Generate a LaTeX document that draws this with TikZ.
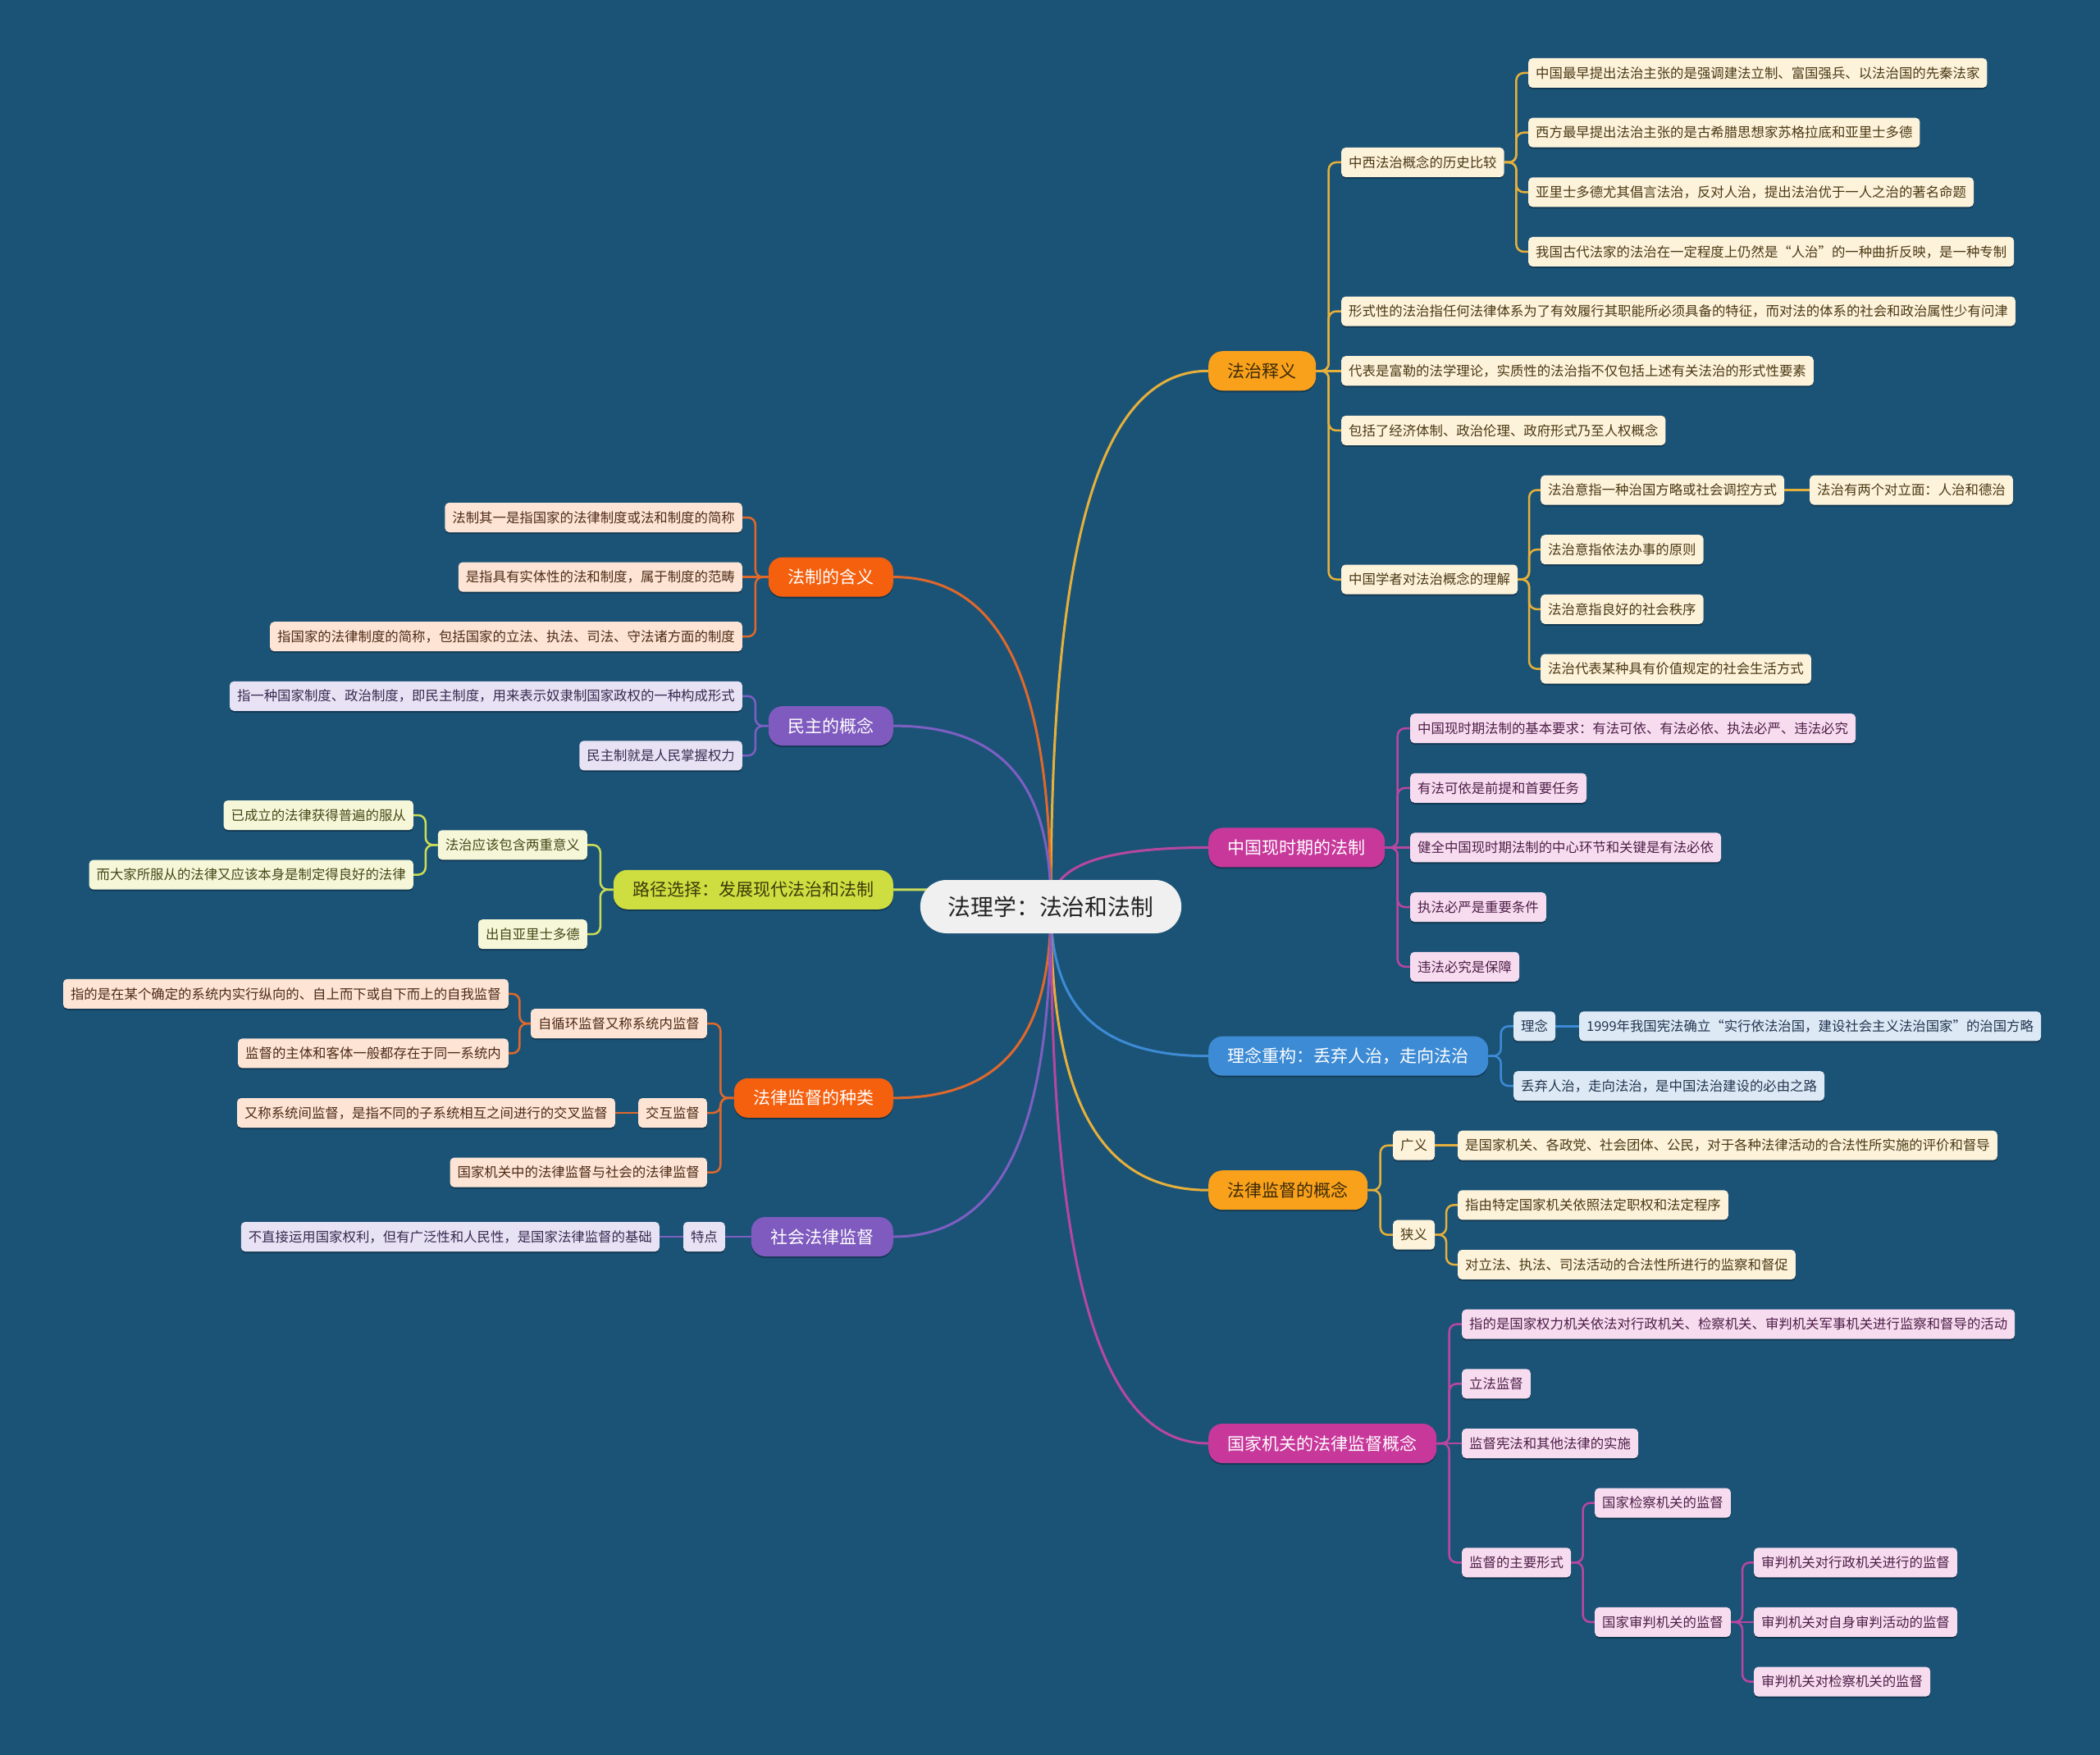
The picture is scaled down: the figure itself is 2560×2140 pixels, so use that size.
\documentclass[tikz,border=0pt]{standalone}
\usepackage{fontspec}
\newfontfamily\cjk{Noto Sans CJK SC}
\usetikzlibrary{calc,shadows}
\definecolor{bgc}{HTML}{1B5377}
\definecolor{orF}{HTML}{F9A11B}\definecolor{orT}{HTML}{3B2A0A}\definecolor{orL}{HTML}{E6B03A}\definecolor{orLf}{HTML}{FDF2DA}\definecolor{orLt}{HTML}{4A3914}
\definecolor{mgF}{HTML}{C8389B}\definecolor{mgL}{HTML}{B8479F}\definecolor{mgLf}{HTML}{F7DCF0}\definecolor{mgLt}{HTML}{4E1F47}
\definecolor{blF}{HTML}{3D8BD5}\definecolor{blL}{HTML}{3D8BD5}\definecolor{blLf}{HTML}{DDEAF6}\definecolor{blLt}{HTML}{22344F}
\definecolor{rdF}{HTML}{F4600E}\definecolor{rdL}{HTML}{E0682A}\definecolor{rdLf}{HTML}{FDE4D4}\definecolor{rdLt}{HTML}{4E2B17}
\definecolor{puF}{HTML}{7F5ABF}\definecolor{puL}{HTML}{7D5FC2}\definecolor{puLf}{HTML}{E8E3F4}\definecolor{puLt}{HTML}{362950}
\definecolor{ygF}{HTML}{CEDD3F}\definecolor{ygT}{HTML}{3A3C0A}\definecolor{ygL}{HTML}{CCDD55}\definecolor{ygLf}{HTML}{F6F7D9}\definecolor{ygLt}{HTML}{454716}
\definecolor{ctF}{HTML}{F0F0F0}\definecolor{ctT}{HTML}{222222}
\pgfdeclarelayer{back}\pgfdeclarelayer{edges}
\pgfsetlayers{back,edges,main}
\newcommand\cR[3]{\draw[subln,#1] (#2.east) -- ($(#2.east)!0.5!(#2.east -| #3.west)$) |- (#3.west);}
\newcommand\cL[3]{\draw[subln,#1] (#2.west) -- ($(#2.west)!0.5!(#2.west -| #3.east)$) |- (#3.east);}
\newcommand\sR[3]{\draw[subln,#1] (#2.east) -- (#2.east -| #3.west);}
\newcommand\sL[3]{\draw[subln,#1] (#2.west) -- (#2.west -| #3.east);}
\newcommand\mR[2]{\draw[mainln,#1] (c.center) .. controls ($(c.center)!0.62!(c.center |- #2.west)$) and ($(c.center |- #2.west)!0.25!(#2.west)$) .. (#2.west);}
\newcommand\mL[2]{\draw[mainln,#1] (c.center) .. controls ($(c.center)!0.62!(c.center |- #2.east)$) and ($(c.center |- #2.east)!0.25!(#2.east)$) .. (#2.east);}
\tikzset{
  mainln/.style={line width=3pt},
  subln/.style={line width=2.5pt, rounded corners=9pt},
  l0/.style={fill=ctF, text=ctT, rounded corners=32pt, minimum height=65pt, inner xsep=34pt, inner ysep=0pt, font=\cjk\fontsize{27.8}{30}\selectfont},
  l1/.style={rounded corners=17pt, minimum height=48pt, inner xsep=23.5pt, inner ysep=0pt, font=\cjk\fontsize{21}{24}\selectfont, drop shadow={shadow xshift=0pt, shadow yshift=-2pt, opacity=0.3, fill=black}},
  lf/.style={rounded corners=5pt, minimum height=36pt, inner xsep=9pt, inner ysep=0pt, font=\cjk\fontsize{16.4}{18}\selectfont, drop shadow={shadow xshift=0pt, shadow yshift=-2pt, opacity=0.3, fill=black}},
  lor/.style={lf, fill=orLf, text=orLt},
  lmg/.style={lf, fill=mgLf, text=mgLt},
  lbl/.style={lf, fill=blLf, text=blLt},
  lrd/.style={lf, fill=rdLf, text=rdLt},
  lpu/.style={lf, fill=puLf, text=puLt},
  lyg/.style={lf, fill=ygLf, text=ygLt},
  rt/.style={anchor=west},
  lt/.style={anchor=east}
}
\begin{document}
\begin{tikzpicture}[x=1pt,y=-1pt]
\begin{pgfonlayer}{back}
\fill[bgc] (0,0) rectangle (2560,2140);
\end{pgfonlayer}
\useasboundingbox (0,0) rectangle (2560,2140);

% central
\node[l0] (c) at (1281,1105.5) {法理学：法治和法制};

% right level 1
\node[l1, rt, fill=orF, text=orT] (r1) at (1473,452.25) {法治释义};
\node[l1, rt, fill=mgF, text=white] (r2) at (1473,1033.45) {中国现时期的法制};
\node[l1, rt, fill=blF, text=white] (r3) at (1473,1287.7) {理念重构：丢弃人治，走向法治};
\node[l1, rt, fill=orF, text=orT] (r4) at (1473,1451.2) {法律监督的概念};
\node[l1, rt, fill=mgF, text=white] (r5) at (1473,1760) {国家机关的法律监督概念};

% left level 1
\node[l1, lt, fill=rdF, text=white] (l1) at (1089,703.6) {法制的含义};
\node[l1, lt, fill=puF, text=white] (l2) at (1089,885.1) {民主的概念};
\node[l1, lt, fill=ygF, text=ygT] (l3) at (1089,1084.75) {路径选择：发展现代法治和法制};
\node[l1, lt, fill=rdF, text=white] (l4) at (1089,1338.85) {法律监督的种类};
\node[l1, lt, fill=puF, text=white] (l5) at (1089,1508) {社会法律监督};

% r1 subtree
\node[lor, rt] (a1) at (1635,198) {中西法治概念的历史比较};
\node[lor, rt] (a11) at (1863,89) {中国最早提出法治主张的是强调建法立制、富国强兵、以法治国的先秦法家};
\node[lor, rt] (a12) at (1863,161.65) {西方最早提出法治主张的是古希腊思想家苏格拉底和亚里士多德};
\node[lor, rt] (a13) at (1863,234.3) {亚里士多德尤其倡言法治，反对人治，提出法治优于一人之治的著名命题};
\node[lor, rt] (a14) at (1863,306.95) {我国古代法家的法治在一定程度上仍然是“人治”的一种曲折反映，是一种专制};
\node[lor, rt] (a2) at (1635,379.6) {形式性的法治指任何法律体系为了有效履行其职能所必须具备的特征，而对法的体系的社会和政治属性少有问津};
\node[lor, rt] (a3) at (1635,452.25) {代表是富勒的法学理论，实质性的法治指不仅包括上述有关法治的形式性要素};
\node[lor, rt] (a4) at (1635,524.9) {包括了经济体制、政治伦理、政府形式乃至人权概念};
\node[lor, rt] (a5) at (1635,706.5) {中国学者对法治概念的理解};
\node[lor, rt] (a51) at (1878,597.55) {法治意指一种治国方略或社会调控方式};
\node[lor, rt] (a511) at (2206,597.55) {法治有两个对立面：人治和德治};
\node[lor, rt] (a52) at (1878,670.2) {法治意指依法办事的原则};
\node[lor, rt] (a53) at (1878,742.85) {法治意指良好的社会秩序};
\node[lor, rt] (a54) at (1878,815.5) {法治代表某种具有价值规定的社会生活方式};

% r2 subtree
\node[lmg, rt] (b1) at (1719,888.15) {中国现时期法制的基本要求：有法可依、有法必依、执法必严、违法必究};
\node[lmg, rt] (b2) at (1719,960.8) {有法可依是前提和首要任务};
\node[lmg, rt] (b3) at (1719,1033.45) {健全中国现时期法制的中心环节和关键是有法必依};
\node[lmg, rt] (b4) at (1719,1106.1) {执法必严是重要条件};
\node[lmg, rt] (b5) at (1719,1178.75) {违法必究是保障};

% r3 subtree
\node[lbl, rt] (d1) at (1845,1251.4) {理念};
\node[lbl, rt] (d11) at (1925,1251.4) {1999年我国宪法确立“实行依法治国，建设社会主义法治国家”的治国方略};
\node[lbl, rt] (d2) at (1845,1324.05) {丢弃人治，走向法治，是中国法治建设的必由之路};

% r4 subtree
\node[lor, rt] (e1) at (1698,1396.7) {广义};
\node[lor, rt] (e11) at (1777,1396.7) {是国家机关、各政党、社会团体、公民，对于各种法律活动的合法性所实施的评价和督导};
\node[lor, rt] (e2) at (1698,1505.7) {狭义};
\node[lor, rt] (e21) at (1777,1469.35) {指由特定国家机关依照法定职权和法定程序};
\node[lor, rt] (e22) at (1777,1542) {对立法、执法、司法活动的合法性所进行的监察和督促};

% r5 subtree
\node[lmg, rt] (f1) at (1782,1614.65) {指的是国家权力机关依法对行政机关、检察机关、审判机关军事机关进行监察和督导的活动};
\node[lmg, rt] (f2) at (1782,1687.3) {立法监督};
\node[lmg, rt] (f3) at (1782,1760) {监督宪法和其他法律的实施};
\node[lmg, rt] (f4) at (1782,1905.25) {监督的主要形式};
\node[lmg, rt] (f41) at (1944,1832.6) {国家检察机关的监督};
\node[lmg, rt] (f42) at (1944,1977.9) {国家审判机关的监督};
\node[lmg, rt] (f421) at (2138,1905.25) {审判机关对行政机关进行的监督};
\node[lmg, rt] (f422) at (2138,1977.9) {审判机关对自身审判活动的监督};
\node[lmg, rt] (f423) at (2138,2050.55) {审判机关对检察机关的监督};

% l1 subtree
\node[lrd, lt] (g1) at (905,631) {法制其一是指国家的法律制度或法和制度的简称};
\node[lrd, lt] (g2) at (905,703.6) {是指具有实体性的法和制度，属于制度的范畴};
\node[lrd, lt] (g3) at (905,776.2) {指国家的法律制度的简称，包括国家的立法、执法、司法、守法诸方面的制度};

% l2 subtree
\node[lpu, lt] (h1) at (905,848.8) {指一种国家制度、政治制度，即民主制度，用来表示奴隶制国家政权的一种构成形式};
\node[lpu, lt] (h2) at (905,921.4) {民主制就是人民掌握权力};

% l3 subtree
\node[lyg, lt] (i1) at (716,1030.3) {法治应该包含两重意义};
\node[lyg, lt] (i11) at (504,994) {已成立的法律获得普遍的服从};
\node[lyg, lt] (i12) at (504,1066.6) {而大家所服从的法律又应该本身是制定得良好的法律};
\node[lyg, lt] (i2) at (716,1139.2) {出自亚里士多德};

% l4 subtree
\node[lrd, lt] (j1) at (862,1248.1) {自循环监督又称系统内监督};
\node[lrd, lt] (j11) at (620,1211.8) {指的是在某个确定的系统内实行纵向的、自上而下或自下而上的自我监督};
\node[lrd, lt] (j12) at (620,1284.4) {监督的主体和客体一般都存在于同一系统内};
\node[lrd, lt] (j2) at (862,1357) {交互监督};
\node[lrd, lt] (j21) at (750,1357) {又称系统间监督，是指不同的子系统相互之间进行的交叉监督};
\node[lrd, lt] (j3) at (862,1429.6) {国家机关中的法律监督与社会的法律监督};

% l5 subtree
\node[lpu, lt] (k1) at (884,1508) {特点};
\node[lpu, lt] (k11) at (804,1508) {不直接运用国家权利，但有广泛性和人民性，是国家法律监督的基础};

\begin{pgfonlayer}{edges}
% main curves
\mR{orL}{r1}\mR{mgL}{r2}\mR{blL}{r3}\mR{orL}{r4}\mR{mgL}{r5}
\mL{rdL}{l1}\mL{puL}{l2}\mL{ygL}{l3}\mL{rdL}{l4}\mL{puL}{l5}
% r1
\cR{orL}{r1}{a1}\cR{orL}{r1}{a2}\sR{orL}{r1}{a3}\cR{orL}{r1}{a4}\cR{orL}{r1}{a5}
\cR{orL}{a1}{a11}\cR{orL}{a1}{a12}\cR{orL}{a1}{a13}\cR{orL}{a1}{a14}
\cR{orL}{a5}{a51}\cR{orL}{a5}{a52}\cR{orL}{a5}{a53}\cR{orL}{a5}{a54}
\sR{orL}{a51}{a511}
% r2
\cR{mgL}{r2}{b1}\cR{mgL}{r2}{b2}\sR{mgL}{r2}{b3}\cR{mgL}{r2}{b4}\cR{mgL}{r2}{b5}
% r3
\cR{blL}{r3}{d1}\cR{blL}{r3}{d2}\sR{blL}{d1}{d11}
% r4
\cR{orL}{r4}{e1}\cR{orL}{r4}{e2}\sR{orL}{e1}{e11}\cR{orL}{e2}{e21}\cR{orL}{e2}{e22}
% r5
\cR{mgL}{r5}{f1}\cR{mgL}{r5}{f2}\sR{mgL}{r5}{f3}\cR{mgL}{r5}{f4}
\cR{mgL}{f4}{f41}\cR{mgL}{f4}{f42}
\cR{mgL}{f42}{f421}\sR{mgL}{f42}{f422}\cR{mgL}{f42}{f423}
% left
\cL{rdL}{l1}{g1}\sL{rdL}{l1}{g2}\cL{rdL}{l1}{g3}
\cL{puL}{l2}{h1}\cL{puL}{l2}{h2}
\cL{ygL}{l3}{i1}\cL{ygL}{l3}{i2}\cL{ygL}{i1}{i11}\cL{ygL}{i1}{i12}
\cL{rdL}{l4}{j1}\cL{rdL}{l4}{j2}\cL{rdL}{l4}{j3}
\cL{rdL}{j1}{j11}\cL{rdL}{j1}{j12}\sL{rdL}{j2}{j21}
\sL{puL}{l5}{k1}\sL{puL}{k1}{k11}
\end{pgfonlayer}
\end{tikzpicture}
\end{document}
